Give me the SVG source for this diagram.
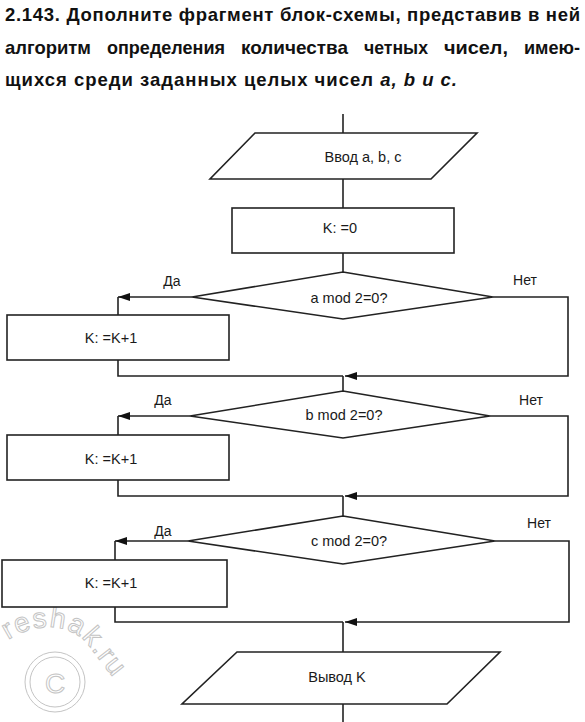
<svg xmlns="http://www.w3.org/2000/svg" width="585" height="722" viewBox="0 0 585 722">
<defs>
<style>
.ln{fill:none;stroke:#222;stroke-width:1.6;stroke-linejoin:miter}
.sh{fill:#fff;stroke:#222;stroke-width:1.6}
.t{font-family:"Liberation Sans",Arial,sans-serif;font-size:14.5px;fill:#1a1a1a;text-anchor:middle}
.lb{font-family:"Liberation Sans",Arial,sans-serif;font-size:14px;fill:#1a1a1a;text-anchor:middle}
.title{font-family:"Liberation Sans",Arial,sans-serif;font-size:18.5px;font-weight:bold;fill:#111}
.wm{font-family:"Liberation Sans",Arial,sans-serif;font-size:28px;fill:#fff;stroke:#c4c4c4;stroke-width:1}
</style>
<marker id="ar" markerWidth="12" markerHeight="8" refX="12" refY="4" orient="auto" markerUnits="userSpaceOnUse">
<path d="M0,0 L12,4 L0,8 Z" fill="#111"/>
</marker>
<path id="wmp" d="M8,640 C35,622 70,622 88,645 L150,725"/>
</defs>
<rect width="585" height="722" fill="#fff"/>

<g id="title">
<text class="title" x="5" y="21" textLength="575" lengthAdjust="spacing">2.143. Дополните фрагмент блок-схемы, представив в ней</text>
<text class="title" x="5" y="54" textLength="86" lengthAdjust="spacingAndGlyphs">алгоритм</text>
<text class="title" x="107" y="54" textLength="118" lengthAdjust="spacingAndGlyphs">определения</text>
<text class="title" x="241" y="54" textLength="107" lengthAdjust="spacingAndGlyphs">количества</text>
<text class="title" x="364" y="54" textLength="64" lengthAdjust="spacingAndGlyphs">четных</text>
<text class="title" x="444" y="54" textLength="64" lengthAdjust="spacingAndGlyphs">чисел,</text>
<text class="title" x="524" y="54" textLength="56" lengthAdjust="spacingAndGlyphs">имею-</text>
<text class="title" x="5" y="86" textLength="452" lengthAdjust="spacing">щихся среди заданных целых чисел <tspan font-style="italic">a, b и c.</tspan></text>
</g>

<g id="watermark">
<text class="wm" letter-spacing="1.5"><textPath href="#wmp">reshak.ru</textPath></text>
<circle cx="55" cy="682" r="30" fill="none" stroke="#c4c4c4" stroke-width="1"/>
<circle cx="55" cy="682" r="25" fill="none" stroke="#c4c4c4" stroke-width="1"/>
<text class="wm" x="55" y="693" text-anchor="middle" font-size="30">C</text>
</g>

<g id="connectors">
<path class="ln" d="M343,114 V133"/>
<path class="ln" d="M343,179 V208"/>
<path class="ln" d="M343,253 V272"/>
<path class="ln" d="M192,297 H118" marker-end="url(#ar)"/>
<path class="ln" d="M118,297 V315"/>
<path class="ln" d="M118,360 V376 H343"/>
<path class="ln" d="M493,297 H568 V376 H345" marker-end="url(#ar)"/>
<path class="ln" d="M343,376 V391"/>
<path class="ln" d="M190,416 H118" marker-end="url(#ar)"/>
<path class="ln" d="M118,416 V435"/>
<path class="ln" d="M118,480 V496 H343"/>
<path class="ln" d="M490,416 H568 V496 H345" marker-end="url(#ar)"/>
<path class="ln" d="M343,496 V516"/>
<path class="ln" d="M188,541 H115" marker-end="url(#ar)"/>
<path class="ln" d="M115,541 V560"/>
<path class="ln" d="M115,607 V622 H343"/>
<path class="ln" d="M495,541 H569 V622 H345" marker-end="url(#ar)"/>
<path class="ln" d="M343,622 V652"/>
<path class="ln" d="M343,704 V722"/>
</g>

<g id="input">
<polygon class="sh" points="255,133 477,133 431,179 210,179"/>
<text class="t" x="363" y="162">Ввод a, b, c</text>
</g>
<g id="init">
<rect class="sh" x="232" y="208" width="222" height="45"/>
<text class="t" x="340" y="233">K: =0</text>
</g>

<g id="cond-a">
<polygon class="sh" points="343,272 493,297 343,319 192,297"/>
<text class="t" x="349" y="303">a mod 2=0?</text>
<text class="lb" x="172" y="286">Да</text>
<text class="lb" x="525" y="285">Нет</text>
</g>
<g id="inc-a">
<rect class="sh" x="7" y="315" width="222" height="45"/>
<text class="t" x="111" y="343">K: =K+1</text>
</g>

<g id="cond-b">
<polygon class="sh" points="343,391 490,416 343,438 190,416"/>
<text class="t" x="344" y="420">b mod 2=0?</text>
<text class="lb" x="163" y="405">Да</text>
<text class="lb" x="531" y="405">Нет</text>
</g>
<g id="inc-b">
<rect class="sh" x="7" y="435" width="222" height="45"/>
<text class="t" x="111" y="464">K: =K+1</text>
</g>

<g id="cond-c">
<polygon class="sh" points="343,516 495,541 343,564 188,541"/>
<text class="t" x="349" y="546">c mod 2=0?</text>
<text class="lb" x="163" y="536">Да</text>
<text class="lb" x="539" y="528">Нет</text>
</g>
<g id="inc-c">
<rect class="sh" x="2" y="560" width="225" height="47"/>
<text class="t" x="111" y="588">K: =K+1</text>
</g>

<g id="output">
<polygon class="sh" points="237,652 500,652 447,704 182,704"/>
<text class="t" x="337" y="682">Вывод K</text>
</g>
</svg>
